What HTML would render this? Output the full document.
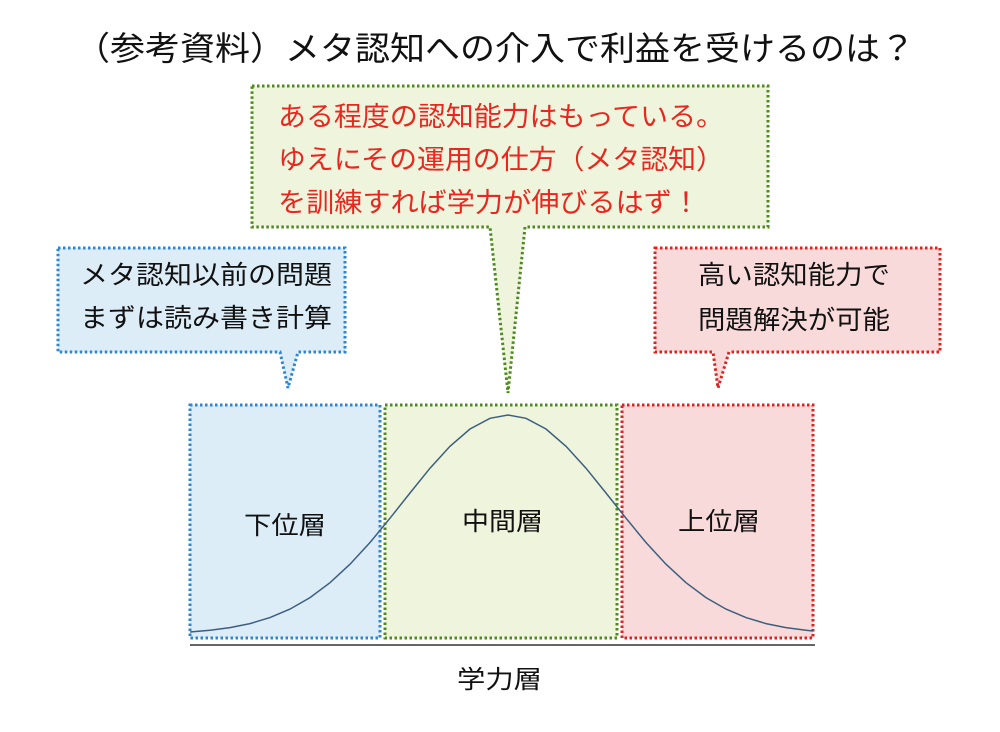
<!DOCTYPE html>
<html><head><meta charset="utf-8"><style>
html,body{margin:0;padding:0;background:#fff}
svg{display:block}
text{font-family:"Liberation Sans","Noto Sans CJK JP",sans-serif}
</style></head><body>
<svg width="1000" height="732" viewBox="0 0 1000 732" xmlns="http://www.w3.org/2000/svg">
<text x="75" y="60" font-size="33" fill="#111" textLength="840" lengthAdjust="spacingAndGlyphs">（参考資料）メタ認知への介入で利益を受けるのは？</text>

<!-- green callout -->
<path d="M252,86 H768 V227 H525 L508,393 L490,227 H252 Z" fill="#eff4dc" stroke="#4f8a1f" stroke-width="3" stroke-dasharray="2.5,2.5"/>
<g fill="#e8281e" font-size="27">
<text x="278" y="126" textLength="446" lengthAdjust="spacingAndGlyphs">ある程度の認知能力はもっている。</text>
<text x="278" y="169" textLength="446" lengthAdjust="spacingAndGlyphs">ゆえにその運用の仕方（メタ認知）</text>
<text x="278" y="212" textLength="422" lengthAdjust="spacingAndGlyphs">を訓練すれば学力が伸びるはず！</text>
</g>

<!-- blue callout -->
<path d="M58,248 H345 V352 H298 L288,388 L280,352 H58 Z" fill="#dcedf8" stroke="#2f86d0" stroke-width="3" stroke-dasharray="2.5,2.5"/>
<text x="80" y="284" font-size="26" fill="#111" textLength="252" lengthAdjust="spacingAndGlyphs">メタ認知以前の問題</text>
<text x="80" y="327" font-size="26" fill="#111" textLength="252" lengthAdjust="spacingAndGlyphs">まずは読み書き計算</text>

<!-- red callout -->
<path d="M655,248 H940 V352 H729 L718,388 L713,352 H655 Z" fill="#f9dadb" stroke="#e0211e" stroke-width="3" stroke-dasharray="2.5,2.5"/>
<text x="698" y="284" font-size="26" fill="#111" textLength="192" lengthAdjust="spacingAndGlyphs">高い認知能力で</text>
<text x="698" y="329" font-size="26" fill="#111" textLength="192" lengthAdjust="spacingAndGlyphs">問題解決が可能</text>

<!-- bottom boxes -->
<rect x="190" y="405" width="190" height="233" fill="#dcedf8" stroke="#2f86d0" stroke-width="3" stroke-dasharray="2.5,2.5"/>
<rect x="385" y="405" width="232" height="233" fill="#eff4dc" stroke="#4f8a1f" stroke-width="3" stroke-dasharray="2.5,2.5"/>
<rect x="622" y="405" width="191" height="233" fill="#f9dadb" stroke="#e0211e" stroke-width="3" stroke-dasharray="2.5,2.5"/>

<polyline fill="none" stroke="#3d5f7f" stroke-width="1.5" points="190,632 210,630.3 230,627.6 250,623.6 270,617.6 290,609.1 310,597.6 330,582.7 350,564.2 370,542.5 390,518.2 410,493 430,468.2 450,446.3 470,429 490,418.3 508,415 526,418.3 546,429 566,446.3 586,468.2 606,493 626,518.2 646,542.5 666,564.2 686,582.7 706,597.6 726,609.1 746,617.6 766,623.6 786,627.6 806,630.3 813,631"/>

<line x1="190" y1="645" x2="815" y2="645" stroke="#666" stroke-width="2"/>

<g font-size="25" fill="#111">
<text x="244" y="534" textLength="82" lengthAdjust="spacingAndGlyphs">下位層</text>
<text x="462" y="530" textLength="81" lengthAdjust="spacingAndGlyphs">中間層</text>
<text x="678" y="530" textLength="82" lengthAdjust="spacingAndGlyphs">上位層</text>
<text x="457" y="688" textLength="85" lengthAdjust="spacingAndGlyphs">学力層</text>
</g>
</svg>
</body></html>
